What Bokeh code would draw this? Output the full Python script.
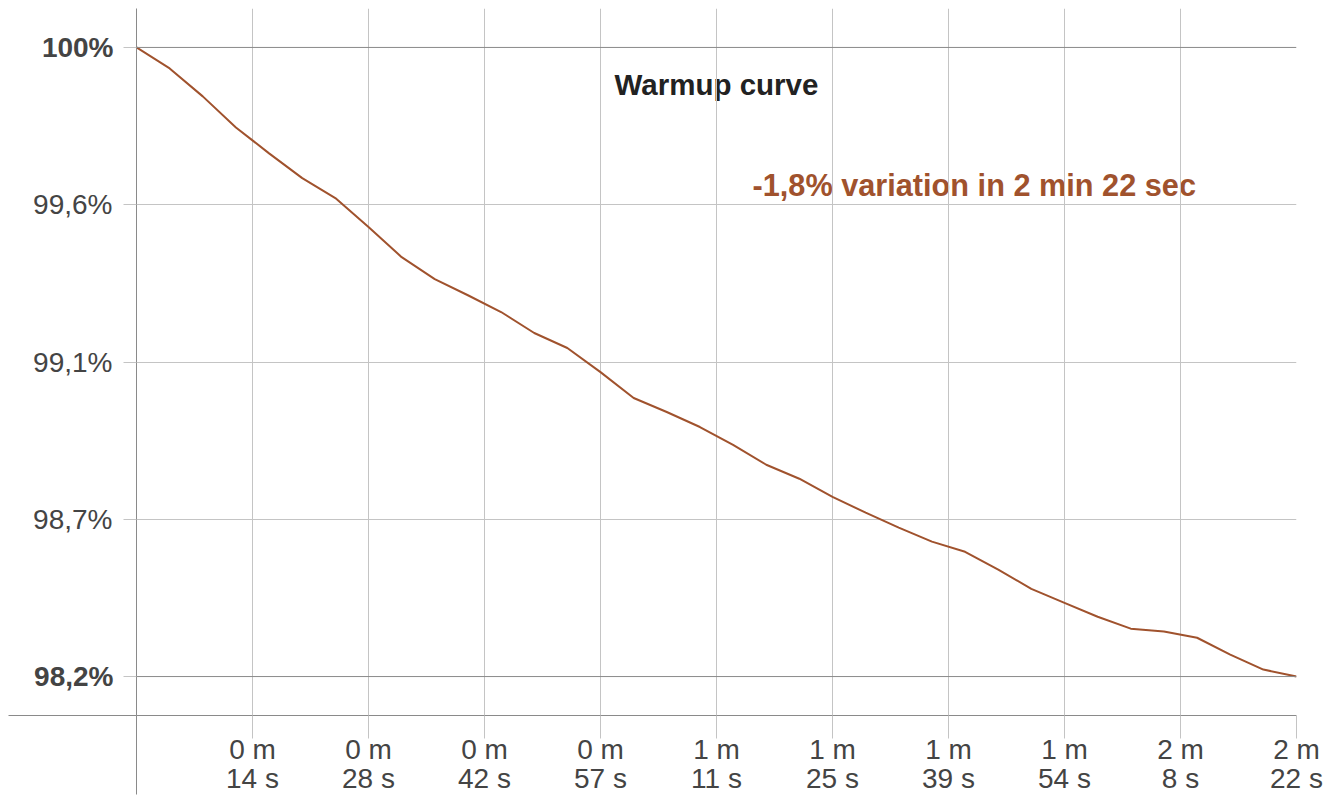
from bokeh.plotting import figure
from bokeh.models import FixedTicker, Range1d, Label, Span, LinearAxis
from bokeh.embed import file_html
from bokeh.resources import INLINE

# ---- data (seconds, % of initial value) ----
times = [0.0, 4.06, 8.11, 12.17, 16.23, 20.29, 24.34, 28.4, 32.46, 36.51, 40.57, 44.63,
         48.69, 52.74, 56.8, 60.86, 64.91, 68.97, 73.03, 77.09, 81.14, 85.2, 89.26, 93.31,
         97.37, 101.43, 105.49, 109.54, 113.6, 117.66, 121.71, 125.77, 129.83, 133.89, 137.94, 142.0]
values = [100.0, 99.94, 99.86, 99.771, 99.697, 99.626, 99.569, 99.486, 99.40, 99.337, 99.291, 99.243,
          99.183, 99.14, 99.071, 98.997, 98.957, 98.914, 98.863, 98.806, 98.766, 98.714, 98.669, 98.626,
          98.586, 98.557, 98.506, 98.451, 98.411, 98.371, 98.337, 98.329, 98.311, 98.263, 98.22, 98.2]

x_ticks = [14.2, 28.4, 42.6, 56.8, 71.0, 85.2, 99.4, 113.6, 127.8, 142.0]
x_tick_labels = ["0 m\n14 s", "0 m\n28 s", "0 m\n42 s", "0 m\n57 s", "1 m\n11 s",
                 "1 m\n25 s", "1 m\n39 s", "1 m\n54 s", "2 m\n8 s", "2 m\n22 s"]
y_ticks = [100.0, 99.55, 99.1, 98.65, 98.2]
y_tick_labels = ["100%", "99,6%", "99,1%", "98,7%", "98,2%"]
bold_ticks = [100.0, 98.2]

title_text = "Warmup curve"
note_text = "-1,8% variation in 2 min 22 sec"

FONT = "Liberation Sans"
ACCENT = "#A0522D"
GRID = "#c4c4c4"
DARK = "#8a8a8a"
LABEL = "#444444"
FS = "28px"
NORMAL_LABEL_W = 83   # width Bokeh measures for "99,6%" at 28px

W, H = 1325, 796
ML, MR, MT = 136, 29, 8
frame_w = W - ML - MR          # 1160
frame_h = 708
MB = H - MT - frame_h          # 80

x0, x1 = 0.0, 142.0
y_pad = (y_ticks[0] - y_ticks[-1]) * 39 / 630
y0, y1 = y_ticks[-1] - y_pad, y_ticks[0] + y_pad

p = figure(width=W, height=H, output_backend="svg", toolbar_location=None,
           x_range=Range1d(x0, x1), y_range=Range1d(y0, y1),
           min_border_left=ML, min_border_right=MR, min_border_top=MT, min_border_bottom=MB)
p.outline_line_color = None
p.background_fill_color = "white"
p.border_fill_color = "white"

px_x = (x1 - x0) / frame_w   # data units per pixel
px_y = (y1 - y0) / frame_h

# x axis (minor tick at 0 = downward extension of the vertical axis line)
X_EXT = 79
xa = p.xaxis[0]
xa.ticker = FixedTicker(ticks=x_ticks, minor_ticks=[x0])
xa.major_label_overrides = {t: l for t, l in zip(x_ticks, x_tick_labels)}
xa.axis_line_color = DARK
xa.major_tick_in = 0
xa.major_tick_out = 23
xa.major_tick_line_color = GRID
xa.minor_tick_in = 0
xa.minor_tick_out = X_EXT
xa.minor_tick_line_color = DARK
xa.major_label_standoff = 18 - X_EXT
xa.major_label_text_font = FONT
xa.major_label_text_font_size = FS
xa.major_label_text_color = LABEL
xa.major_label_text_line_height = 0.95

# y axis, normal labels (minor tick at bottom = leftward extension of the horizontal axis line)
Y_EXT = ML - 8
ya = p.yaxis[0]
ya.ticker = FixedTicker(ticks=y_ticks, minor_ticks=[y0])
ya.major_label_overrides = {t: ("" if t in bold_ticks else l) for t, l in zip(y_ticks, y_tick_labels)}
ya.axis_line_color = DARK
ya.major_tick_in = 0
ya.major_tick_out = 13
ya.major_tick_line_color = GRID
ya.minor_tick_in = 0
ya.minor_tick_out = Y_EXT
ya.minor_tick_line_color = DARK
ya.major_label_standoff = 24 - Y_EXT
ya.major_label_text_font = FONT
ya.major_label_text_font_size = FS
ya.major_label_text_color = LABEL

# second y axis carrying the bold labels, pulled back onto the same column
yb = LinearAxis(ticker=FixedTicker(ticks=bold_ticks),
                major_label_overrides={t: l for t, l in zip(y_ticks, y_tick_labels) if t in bold_ticks},
                axis_line_color=None, major_tick_line_color=None, minor_tick_line_color=None,
                major_tick_in=0, major_tick_out=0,
                major_label_standoff=-NORMAL_LABEL_W,
                major_label_text_font=FONT, major_label_text_font_size=FS,
                major_label_text_font_style="bold", major_label_text_color=LABEL)
p.add_layout(yb, "left")

# grids
p.xgrid.ticker = FixedTicker(ticks=x_ticks)
p.xgrid.grid_line_color = GRID
p.ygrid.ticker = FixedTicker(ticks=[t for t in y_ticks if t not in bold_ticks])
p.ygrid.grid_line_color = GRID

# darker lines at start and end values
for t in bold_ticks:
    p.add_layout(Span(location=t, dimension="width", line_color=DARK, line_width=1))

# title and note (drawn beneath the grid)
p.add_layout(Label(x=(x0 + x1) / 2, y=y1 - 76 * px_y, text=title_text, text_align="center",
                   text_baseline="middle", text_font=FONT, text_font_size="29.5px",
                   text_font_style="bold", text_color="#222222", level="image"))
p.add_layout(Label(x=x0 + 616 * px_x, y=y1 - 177 * px_y, text=note_text, text_align="left",
                   text_baseline="middle", text_font=FONT, text_font_size="30.7px",
                   text_font_style="bold", text_color=ACCENT, level="image"))

p.line(times, values, line_color=ACCENT, line_width=2)

open("out.html", "w").write(file_html(p, INLINE))
